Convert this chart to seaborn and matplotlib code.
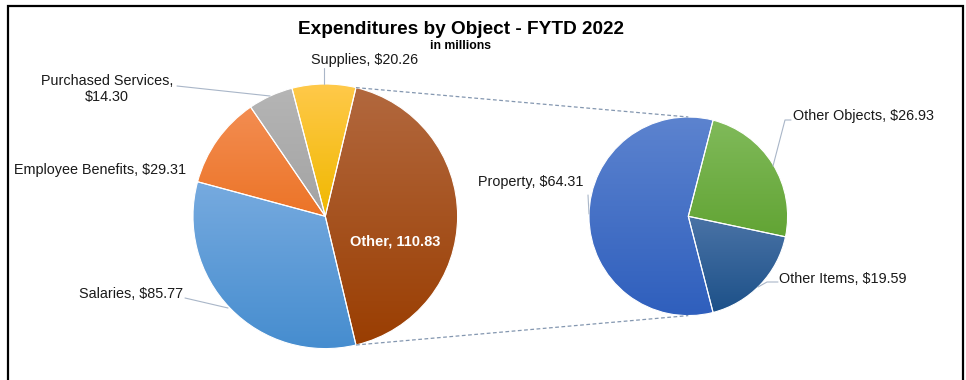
import numpy as np
import matplotlib
matplotlib.use("Agg")
import matplotlib.pyplot as plt
import seaborn as sns
from matplotlib.colors import to_rgb
from matplotlib.patches import Rectangle

sns.set_theme(style="white")
plt.rcParams["font.family"] = ["Liberation Sans", "DejaVu Sans"]

# Expenditures by object, in millions
main_labels = ["Other", "Salaries", "Employee Benefits", "Purchased Services", "Supplies"]
main_values = [110.83, 85.77, 29.31, 14.30, 20.26]

# Breakdown of the "Other" slice
sub_labels = ["Other Objects", "Other Items", "Property"]
sub_values = [26.93, 19.59, 64.31]

# (light top, dark bottom) gradient colours for each slice
main_colors = [("#b2683e", "#9a3e02"), ("#76aadf", "#468dcf"), ("#f38d52", "#ec7427"),
               ("#b5b5b5", "#a3a3a3"), ("#ffc94a", "#f0b800")]
sub_colors = [("#80ba5a", "#62a434"), ("#4a73a6", "#1d5189"), ("#5c83cf", "#2f5fbd")]

W, H = 966, 380
fig = plt.figure(figsize=(W / 100, H / 100), dpi=100)
ax = fig.add_axes([0, 0, 1, 1])
ax.set_xlim(0, W)
ax.set_ylim(0, H)
ax.set_aspect("equal")
ax.axis("off")


def py(y):
    """Convert a top-down canvas y to the axes' bottom-up y."""
    return H - y


def gradient_fill(wedge, top, bottom):
    x0, y0, x1, y1 = wedge.get_path().get_extents(wedge.get_patch_transform()).extents
    c0, c1 = np.array(to_rgb(top)), np.array(to_rgb(bottom))
    t = np.linspace(0, 1, 64)[:, None]
    img = (c0 * (1 - t) + c1 * t)[:, None, :]
    im = ax.imshow(img, extent=(x0, x1, y0, y1), origin="upper", aspect="auto",
                   interpolation="bilinear", zorder=1)
    im.set_clip_path(wedge)
    wedge.set_facecolor("none")
    wedge.set_zorder(2)


main_center, main_r = (325.3, py(216.3)), 132.3
sub_center, sub_r = (688.3, py(216.3)), 99.3

other_frac = main_values[0] / sum(main_values)
main_wedges, _ = ax.pie(main_values, center=main_center, radius=main_r,
                        startangle=other_frac * 180, counterclock=False,
                        wedgeprops=dict(edgecolor="white", linewidth=0.8))
prop_frac = sub_values[2] / sum(sub_values)
sub_wedges, _ = ax.pie(sub_values, center=sub_center, radius=sub_r,
                       startangle=540 - prop_frac * 180, counterclock=False,
                       wedgeprops=dict(edgecolor="white", linewidth=0.8))
ax.set_xlim(0, W)
ax.set_ylim(0, H)

for w, (c0, c1) in zip(main_wedges, main_colors):
    gradient_fill(w, c0, c1)
for w, (c0, c1) in zip(sub_wedges, sub_colors):
    gradient_fill(w, c0, c1)

# Dashed connectors from the edges of the "Other" slice to the secondary pie
ow = main_wedges[0]
for ang, target in ((ow.theta2, (sub_center[0], sub_center[1] + sub_r)),
                    (ow.theta1, (sub_center[0], sub_center[1] - sub_r))):
    a = np.deg2rad(ang)
    sx = main_center[0] + main_r * np.cos(a)
    sy = main_center[1] + main_r * np.sin(a)
    ax.plot([sx, target[0]], [sy, target[1]], color="#8497b0", lw=0.9,
            ls=(0, (3, 2)), zorder=3)

label_kw = dict(fontsize=10.4, color="#1a1a1a", zorder=4)
lead_kw = dict(color="#a9b6c8", lw=0.8, zorder=3)


def money(name, v):
    return f"{name}, ${v:.2f}"


# Primary pie labels
ax.text(395.5, py(242), f"{main_labels[0]}, {main_values[0]:.2f}", ha="center",
        va="center", fontsize=10.5, fontweight="bold", color="white", zorder=4)
ax.text(365, py(60), money(main_labels[4], main_values[4]), ha="center", va="center", **label_kw)
ax.plot([324, 324], [py(68), py(84)], **lead_kw)
ax.text(107, py(89), f"{main_labels[3]},\n${main_values[3]:.2f}", ha="center", va="center",
        linespacing=1.2, **label_kw)
ax.plot([177, 270], [py(86), py(96)], **lead_kw)
ax.text(186, py(170), money(main_labels[2], main_values[2]), ha="right", va="center", **label_kw)
ax.text(183, py(294), money(main_labels[1], main_values[1]), ha="right", va="center", **label_kw)
ax.plot([185, 228], [py(298), py(308)], **lead_kw)

# Secondary pie labels
ax.text(584, py(182), money(sub_labels[2], sub_values[2]), ha="right", va="center", **label_kw)
ax.plot([588, 589], [py(195), py(214)], **lead_kw)
ax.text(793, py(116), money(sub_labels[0], sub_values[0]), ha="left", va="center", **label_kw)
ax.plot([791, 785, 773], [py(120), py(120), py(166)], **lead_kw)
ax.text(779, py(279), money(sub_labels[1], sub_values[1]), ha="left", va="center", **label_kw)
ax.plot([778, 767, 758], [py(282), py(282), py(287)], **lead_kw)

# Titles
ax.text(461, py(29), "Expenditures by Object - FYTD 2022", ha="center", va="center",
        fontsize=13.7, fontweight="bold", color="black", zorder=4)
ax.text(461, py(46), "in millions", ha="center", va="center",
        fontsize=8.8, fontweight="bold", color="black", zorder=4)

# Chart frame
fig.patches.append(Rectangle((8 / W, -0.05), (963 - 8) / W, (H - 6) / H + 0.05,
                             transform=fig.transFigure, fill=False,
                             edgecolor="black", linewidth=1.6, zorder=10))

fig.savefig("out.png", dpi=100)
